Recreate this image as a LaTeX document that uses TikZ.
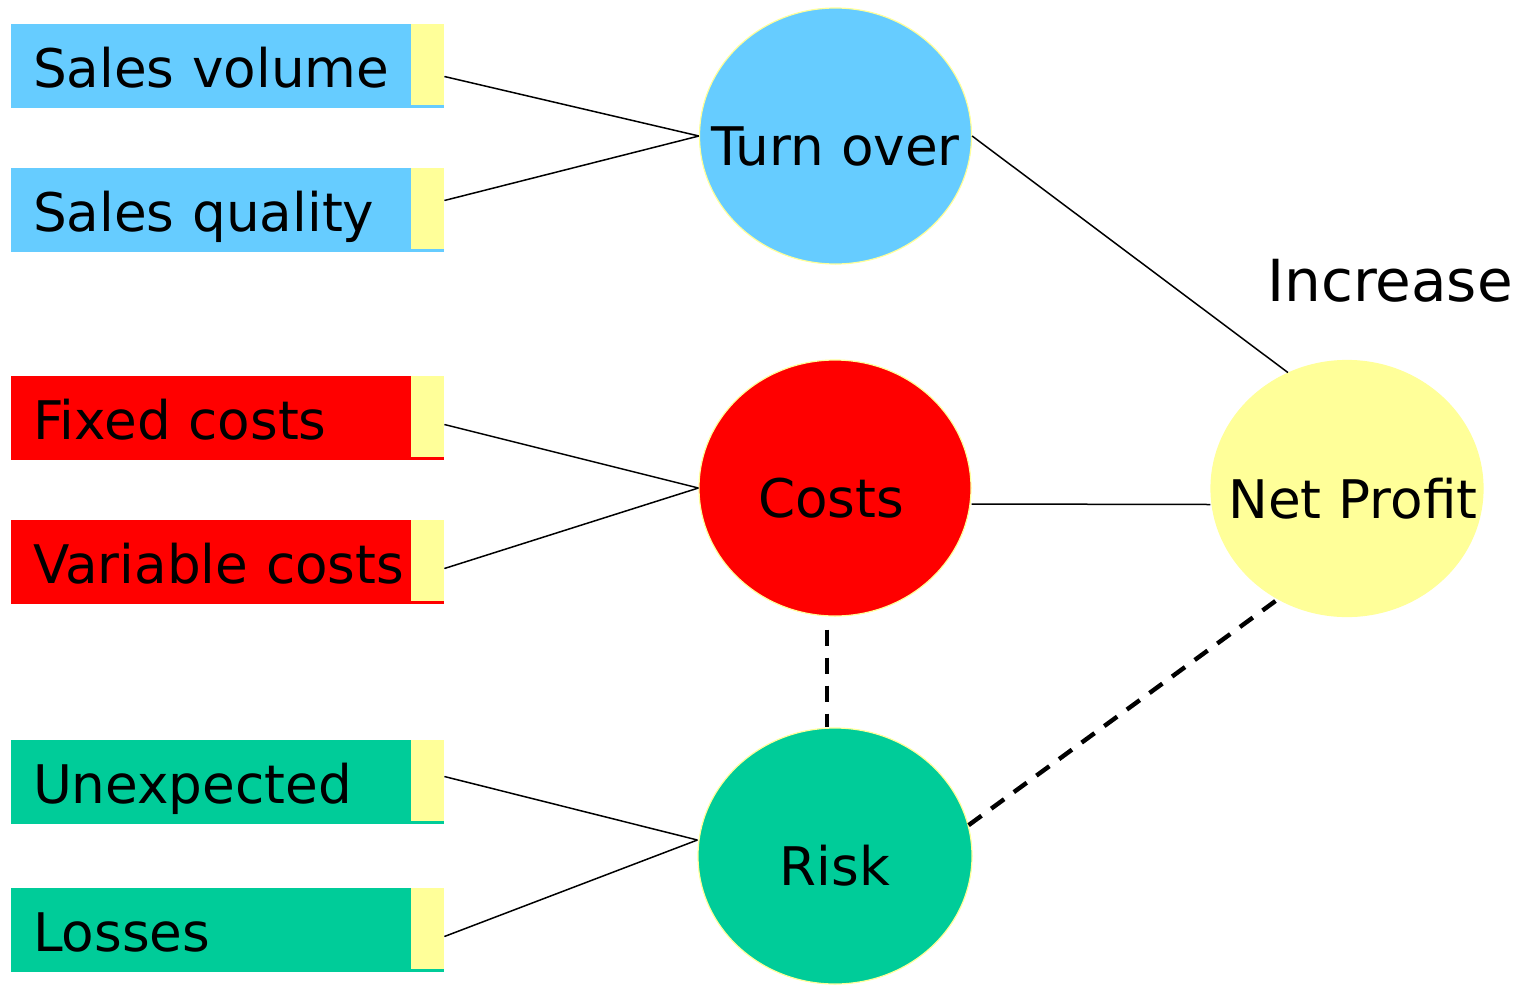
\documentclass[tikz,border=0pt]{standalone}
\usepackage{fontspec}
\setmainfont{DejaVu Sans}
\usetikzlibrary{shapes.geometric}
\definecolor{sky}{HTML}{66CCFF}
\definecolor{lemon}{HTML}{FFFF99}
\definecolor{jade}{HTML}{00CC99}
\definecolor{scarlet}{HTML}{FF0000}

\begin{document}
\begin{tikzpicture}[x=.5pt, y=-.5pt,
    every node/.style={font=\fontsize{26.6}{32}\selectfont},
    factor/.style={
        rectangle,
        inner sep=0pt,
        inner xsep=11pt,
        minimum height=42pt,
        text width=194.5pt,
        text height=21pt,
        text depth=0pt,
        align=left},
    tab/.style={
        rectangle,
        fill=lemon,
        inner sep=0pt,
        minimum width=16.5pt,
        minimum height=40.5pt,
        anchor=north east},
    ball/.style={
        ellipse,
        draw=lemon,
        line width=.6pt,
        inner sep=0pt,
        minimum width=136pt,
        minimum height=128pt},
    txt/.style={yshift=-5pt},
    link/.style={line width=.75pt},
    hint/.style={line width=2.2pt, dash pattern=on 8pt off 6pt}]

    \useasboundingbox (0,0) rectangle (1530,985);

    \node[factor, fill=sky] (sv) at (227.5,66) {Sales volume};
    \node[factor, fill=sky] (sq) at (227.5,210) {Sales quality};
    \node[factor, fill=scarlet] (fc) at (227.5,418) {Fixed costs};
    \node[factor, fill=scarlet] (vc) at (227.5,562) {Variable costs};
    \node[factor, fill=jade] (ux) at (227.5,782) {Unexpected};
    \node[factor, fill=jade] (ls) at (227.5,930) {Losses};

    \node[tab] (sv-t) at (sv.north east) {};
    \node[tab] (sq-t) at (sq.north east) {};
    \node[tab] (fc-t) at (fc.north east) {};
    \node[tab] (vc-t) at (vc.north east) {};
    \node[tab] (ux-t) at (ux.north east) {};
    \node[tab] (ls-t) at (ls.north east) {};

    \node[ball, fill=sky, label={[txt]center:Turn over}] (turn) at (835.5,136) {};
    \node[ball, fill=scarlet, label={[txt, xshift=-2pt]center:Costs}] (costs) at (835,488) {};
    \node[ball, fill=jade, minimum width=137pt, label={[txt]center:Risk}] (risk) at (835,856) {};
    \node[ball, fill=lemon, label={[txt, xshift=3pt]center:Net Profit}] (np) at (1347,488.5) {};

    \node[font=\fontsize{29}{35}\selectfont] (inc) at (1390,281) {Increase};

    \draw[link] ([yshift=-6pt]sv-t.east) -- (turn.west);
    \draw[link] ([yshift=4pt]sq-t.east) -- (turn.west);
    \draw[link] ([yshift=-4pt]fc-t.east) -- (costs.west);
    \draw[link] ([yshift=-4pt]vc-t.east) -- (costs.west);
    \draw[link] ([yshift=2pt]ux-t.east) -- ([yshift=8pt]risk.west);
    \draw[link] ([yshift=-4pt]ls-t.east) -- ([yshift=8pt]risk.west);

    \draw[link] (turn.east) -- (np.117);
    \draw[link] ([yshift=-8pt]costs.east) -- ([yshift=-8pt]np.west);

    \draw[hint] ([xshift=-4pt, yshift=-6.5pt]costs.south) -- ([xshift=-4pt]risk.north);
    \draw[hint] (risk.13) -- (np.238);
\end{tikzpicture}
\end{document}
